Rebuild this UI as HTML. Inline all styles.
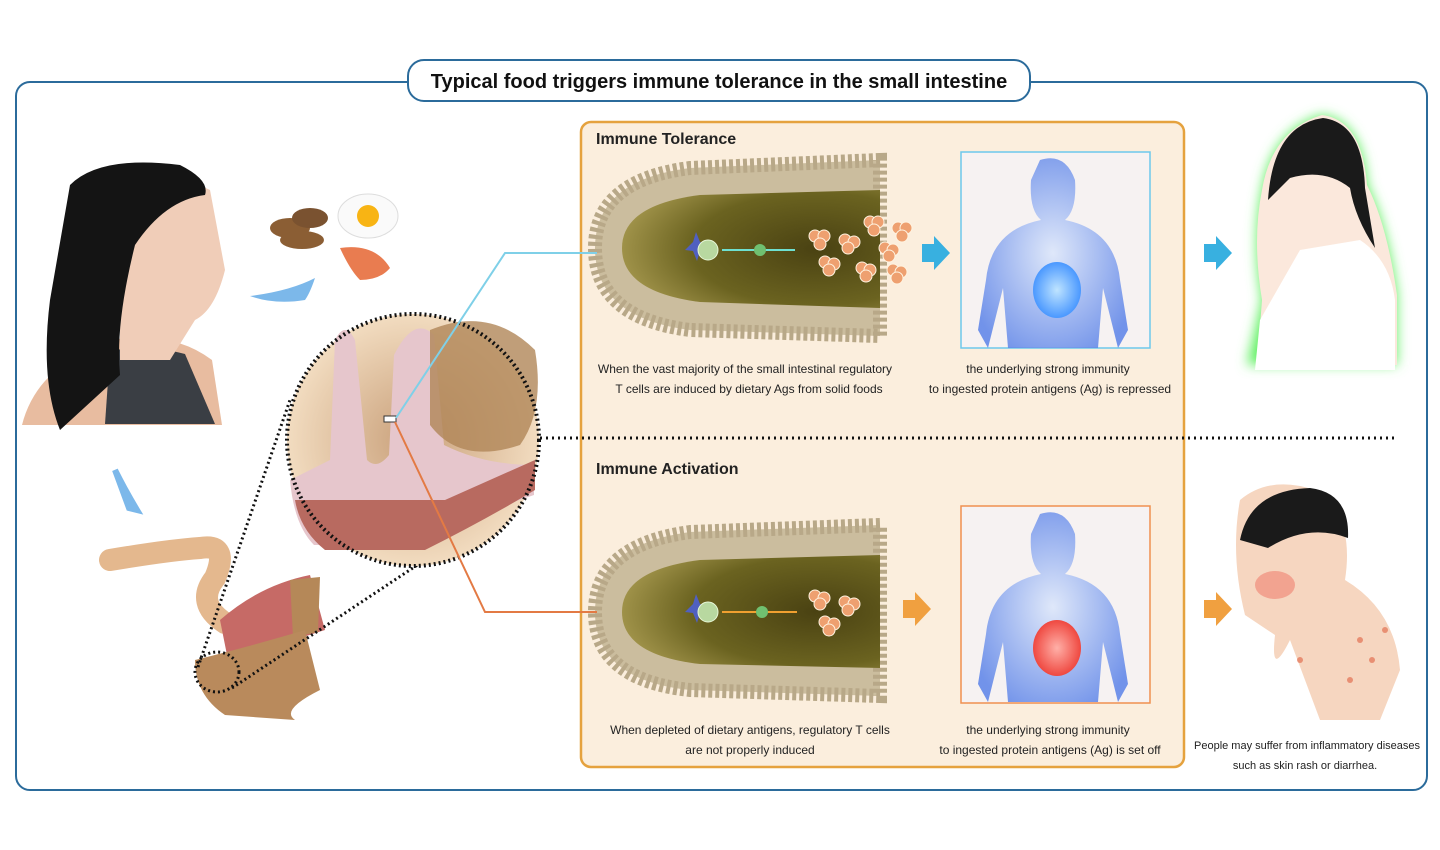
<!DOCTYPE html>
<html><head><meta charset="utf-8"><style>
html,body{margin:0;padding:0;background:#fff;}
svg{display:block;}
text{font-family:"Liberation Sans",sans-serif;}
</style></head><body>
<svg width="1440" height="850" viewBox="0 0 1440 850" xmlns="http://www.w3.org/2000/svg">
<defs>
<radialGradient id="vil" cx="0.75" cy="0.5" r="0.8"><stop offset="0" stop-color="#4a4212"/><stop offset="0.6" stop-color="#6b6320"/><stop offset="1" stop-color="#a89a50"/></radialGradient>
<radialGradient id="body" cx="0.5" cy="0.5" r="0.6"><stop offset="0" stop-color="#dbe6fb"/><stop offset="1" stop-color="#5a82e8"/></radialGradient>
<radialGradient id="gutB" cx="0.5" cy="0.5" r="0.5"><stop offset="0" stop-color="#bfe4ff"/><stop offset="1" stop-color="#4a98ff"/></radialGradient>
<radialGradient id="gutR" cx="0.5" cy="0.5" r="0.5"><stop offset="0" stop-color="#ffb0a8"/><stop offset="1" stop-color="#ef4840"/></radialGradient>
<radialGradient id="circ" cx="0.5" cy="0.5" r="0.5"><stop offset="0" stop-color="#c9a07a"/><stop offset="1" stop-color="#f2dcc0"/></radialGradient>
<filter id="glow"><feGaussianBlur stdDeviation="6"/></filter>
</defs>
<rect x="16" y="82" width="1411" height="708" rx="14" fill="none" stroke="#2b6b9b" stroke-width="2"/>
<rect x="408" y="60" width="622" height="41" rx="16" fill="#fff" stroke="#2b6b9b" stroke-width="2"/>
<text x="719" y="88" text-anchor="middle" font-size="20" font-weight="bold" fill="#111">Typical food triggers immune tolerance in the small intestine</text>

<rect x="581" y="122" width="603" height="645" rx="10" fill="#fbeedd" stroke="#e5a23e" stroke-width="2.5"/>
<text x="596" y="144" font-size="16" font-weight="bold" fill="#222">Immune Tolerance</text>
<text x="596" y="474" font-size="16" font-weight="bold" fill="#222">Immune Activation</text>
<line x1="540" y1="438" x2="1395" y2="438" stroke="#111" stroke-width="3" stroke-dasharray="2,4"/>

<g>
<path d="M880 160 L690 168 Q595 180 595 248 Q595 318 690 330 L880 336 Z" fill="#cbbd9e" stroke="#b8a888" stroke-dasharray="4,3" stroke-width="14"/>
<path d="M880 190 L700 195 Q622 205 622 248 Q622 292 700 302 L880 308 Z" fill="url(#vil)"/>
<path d="M685 250 l8 -8 l3 -10 l4 10 l10 4 l-10 5 l-3 10 l-4 -10z" fill="#5060c0"/>
<circle cx="708" cy="250" r="10" fill="#b8d8a0" stroke="#e8f8d8"/>
<line x1="722" y1="250" x2="795" y2="250" stroke="#6ee0d0" stroke-width="2"/>
<circle cx="760" cy="250" r="6" fill="#70c070"/>
<g fill="#eea070" stroke="#fff3e0" stroke-width="1">
<circle cx="815" cy="236" r="6"/><circle cx="824" cy="236" r="6"/><circle cx="820" cy="244" r="6"/>
<circle cx="845" cy="240" r="6"/><circle cx="854" cy="242" r="6"/><circle cx="848" cy="248" r="6"/>
<circle cx="825" cy="262" r="6"/><circle cx="834" cy="264" r="6"/><circle cx="829" cy="270" r="6"/>
<circle cx="870" cy="222" r="6"/><circle cx="878" cy="222" r="6"/><circle cx="874" cy="230" r="6"/>
<circle cx="898" cy="228" r="6"/><circle cx="906" cy="228" r="6"/><circle cx="902" cy="236" r="6"/>
<circle cx="885" cy="248" r="6"/><circle cx="893" cy="250" r="6"/><circle cx="889" cy="256" r="6"/>
<circle cx="862" cy="268" r="6"/><circle cx="870" cy="270" r="6"/><circle cx="866" cy="276" r="6"/>
<circle cx="893" cy="270" r="6"/><circle cx="901" cy="272" r="6"/><circle cx="897" cy="278" r="6"/>
</g>
</g>
<path d="M922 244 h12 v-8 l16 17 -16 17 v-8 h-12z" fill="#38b0e0"/>
<rect x="961" y="152" width="189" height="196" fill="#f6f2f2" stroke="#6cc8ec" stroke-width="1.5"/>
<path d="M1040 160 q25 -8 35 20 q2 30 -10 40 q50 10 55 60 l8 50 -10 18 -15 -60 -5 60 h-90 l-5 -60 -15 60 -10 -18 8 -50 q5 -50 55 -60 q-12 -10 -10 -40z" fill="url(#body)" opacity="0.85"/>
<ellipse cx="1057" cy="290" rx="24" ry="28" fill="url(#gutB)"/>

<g>
<path d="M880 525 L690 532 Q595 545 595 612 Q595 680 690 690 L880 696 Z" fill="#cbbd9e" stroke="#b8a888" stroke-dasharray="4,3" stroke-width="14"/>
<path d="M880 555 L700 560 Q622 570 622 612 Q622 655 700 664 L880 668 Z" fill="url(#vil)"/>
<path d="M685 612 l8 -8 l3 -10 l4 10 l10 4 l-10 5 l-3 10 l-4 -10z" fill="#5060c0"/>
<circle cx="708" cy="612" r="10" fill="#b8d8a0" stroke="#e8f8d8"/>
<line x1="722" y1="612" x2="797" y2="612" stroke="#f0a030" stroke-width="2"/>
<circle cx="762" cy="612" r="6" fill="#70c070"/>
<g fill="#eea070" stroke="#fff3e0" stroke-width="1">
<circle cx="815" cy="596" r="6"/><circle cx="824" cy="598" r="6"/><circle cx="820" cy="604" r="6"/>
<circle cx="845" cy="602" r="6"/><circle cx="854" cy="604" r="6"/><circle cx="848" cy="610" r="6"/>
<circle cx="825" cy="622" r="6"/><circle cx="834" cy="624" r="6"/><circle cx="829" cy="630" r="6"/>
</g>
</g>
<path d="M903 600 h12 v-8 l16 17 -16 17 v-8 h-12z" fill="#f0a040"/>
<rect x="961" y="506" width="189" height="197" fill="#f6f2f2" stroke="#f09050" stroke-width="1.5"/>
<path d="M1040 514 q25 -8 35 20 q2 30 -10 40 q50 10 55 60 l8 50 -10 18 -15 -60 -5 60 h-90 l-5 -60 -15 60 -10 -18 8 -50 q5 -50 55 -60 q-12 -10 -10 -40z" fill="url(#body)" opacity="0.85"/>
<ellipse cx="1057" cy="648" rx="24" ry="28" fill="url(#gutR)"/>

<g font-size="12" fill="#222" text-anchor="middle">
<text x="745" y="373">When the vast majority of the small intestinal regulatory</text>
<text x="749" y="393">T cells are induced by dietary Ags from solid foods</text>
<text x="1048" y="373">the underlying strong immunity</text>
<text x="1050" y="393">to ingested protein antigens (Ag) is repressed</text>
<text x="750" y="734">When depleted of dietary antigens, regulatory T cells</text>
<text x="750" y="754">are not properly induced</text>
<text x="1048" y="734">the underlying strong immunity</text>
<text x="1050" y="754">to ingested protein antigens (Ag) is set off</text>
<text x="1307" y="749" font-size="11">People may suffer from inflammatory diseases</text>
<text x="1305" y="769" font-size="11">such as skin rash or diarrhea.</text>
</g>

<path d="M1204 244 h12 v-8 l16 17 -16 17 v-8 h-12z" fill="#38b0e0"/>
<path d="M1204 600 h12 v-8 l16 17 -16 17 v-8 h-12z" fill="#f0a040"/>

<g>
<path d="M1262 300 q-10 -60 0 -110 q10 -60 60 -75 q40 5 45 70 q20 40 30 110 v70 h-150 z" fill="#5ef060" filter="url(#glow)"/>
<path d="M1262 300 q-10 -60 0 -110 q10 -60 60 -75 q40 5 45 70 q20 40 30 110 v70 h-140 z" fill="#fbe8dc"/>
<path d="M1268 200 q5 -75 55 -82 q40 5 42 70 l10 60 q-20 -30 -25 -60 q-25 -20 -60 -10 z" fill="#1a1a1a"/>
<path d="M1300 250 l60 -10 q30 20 35 60 v70 h-140 l5 -50 z" fill="#fff"/>
</g>
<g>
<path d="M1240 500 q30 -25 75 -10 q40 25 30 90 q50 30 55 90 l-20 50 h-60 l-30 -80 q-20 40 -15 -5 l-30 -20 q-15 -60 -5 -115z" fill="#f6d6c0"/>
<path d="M1240 540 q10 -50 70 -52 q40 5 38 50 q-40 -15 -80 10z" fill="#1a1a1a"/>
<ellipse cx="1275" cy="585" rx="20" ry="14" fill="#f08070" opacity="0.6"/>
<g fill="#e06040" opacity="0.6"><circle cx="1360" cy="640" r="3"/><circle cx="1372" cy="660" r="3"/><circle cx="1350" cy="680" r="3"/><circle cx="1385" cy="630" r="3"/><circle cx="1300" cy="660" r="3"/></g>
</g>

<g>
<path d="M22 425 q15 -60 90 -85 q60 -10 100 20 l10 65z" fill="#e8bca0"/>
<path d="M110 352 q30 -10 75 2 l30 70 h-110 z" fill="#3a3e44"/>
<path d="M120 200 q40 -35 90 -10 l15 80 q-10 40 -30 50 l-25 40 h-50z" fill="#f0cdb8"/>
<path d="M70 185 q30 -30 110 -20 q30 15 25 30 q-40 5 -70 50 q-20 80 -15 130 l-60 55 q-20 -50 -10 -130 z" fill="#141414"/>
<path d="M250 296 q40 -5 65 -18 q-5 15 -10 22 q-30 5 -55 -4z" fill="#7cb8ea"/>
<path d="M115 470 q10 20 22 40 l-8 -2z" fill="#7cb8ea" stroke="#7cb8ea" stroke-width="6"/>
</g>
<g>
<ellipse cx="290" cy="228" rx="20" ry="10" fill="#8b5e34"/><ellipse cx="310" cy="218" rx="18" ry="10" fill="#7a5230"/><ellipse cx="302" cy="240" rx="22" ry="9" fill="#8b5e34"/>
<ellipse cx="368" cy="216" rx="30" ry="22" fill="#fafafa" stroke="#ddd"/><circle cx="368" cy="216" r="11" fill="#f8b414"/>
<path d="M340 248 q35 -5 50 20 q-10 12 -30 12 q-10 -10 -20 -32z" fill="#e97c50"/>
</g>

<g>
<path d="M110 560 q60 -10 90 -12 q30 -5 15 30 q-20 25 10 45 l30 8" fill="none" stroke="#e4b88e" stroke-width="22" stroke-linecap="round"/>
<path d="M220 620 q40 -35 90 -45 l15 55 q-50 15 -95 40z" fill="#c66a66"/>
<path d="M290 580 l30 -3 l-2 55 l-25 5z" fill="#b58858"/>
<path d="M195 660 q60 -15 110 -30 l15 60 q-40 20 -25 30 l-70 -5 q-30 -20 -30 -55z" fill="#b98a5c"/>
<ellipse cx="217" cy="672" rx="22" ry="20" fill="none" stroke="#111" stroke-width="3" stroke-dasharray="2,3"/>
</g>
<line x1="198" y1="667" x2="290" y2="400" stroke="#111" stroke-width="3" stroke-dasharray="2,3"/>
<line x1="232" y1="688" x2="470" y2="530" stroke="#111" stroke-width="3" stroke-dasharray="2,3"/>
<circle cx="413" cy="440" r="126" fill="url(#circ)"/>
<path d="M290 480 q20 -10 40 -20 l5 -120 q10 -20 20 0 l12 120 q10 10 22 -5 l5 -100 q20 -40 40 -20 l10 110 q40 20 90 20 l0 30 q-60 20 -120 50 h-100 q-20 -20 -24 -65z" fill="#e6c6cc"/>
<path d="M295 500 l150 0 l90 -40 l0 30 q-50 30 -110 60 h-100 q-25 -20 -30 -50z" fill="#b86a60"/>
<path d="M430 330 q60 -25 105 20 q10 60 -15 95 q-60 20 -90 -20z" fill="#b08658" opacity="0.8"/>
<circle cx="413" cy="440" r="126" fill="none" stroke="#111" stroke-width="4" stroke-dasharray="2,3"/>
<rect x="384" y="416" width="12" height="6" fill="#fff" stroke="#333"/>
<polyline points="396,418 505,253 597,253" fill="none" stroke="#7fd0e8" stroke-width="2"/>
<polyline points="395,422 485,612 597,612" fill="none" stroke="#e37a44" stroke-width="2"/>
</svg>
</body></html>
